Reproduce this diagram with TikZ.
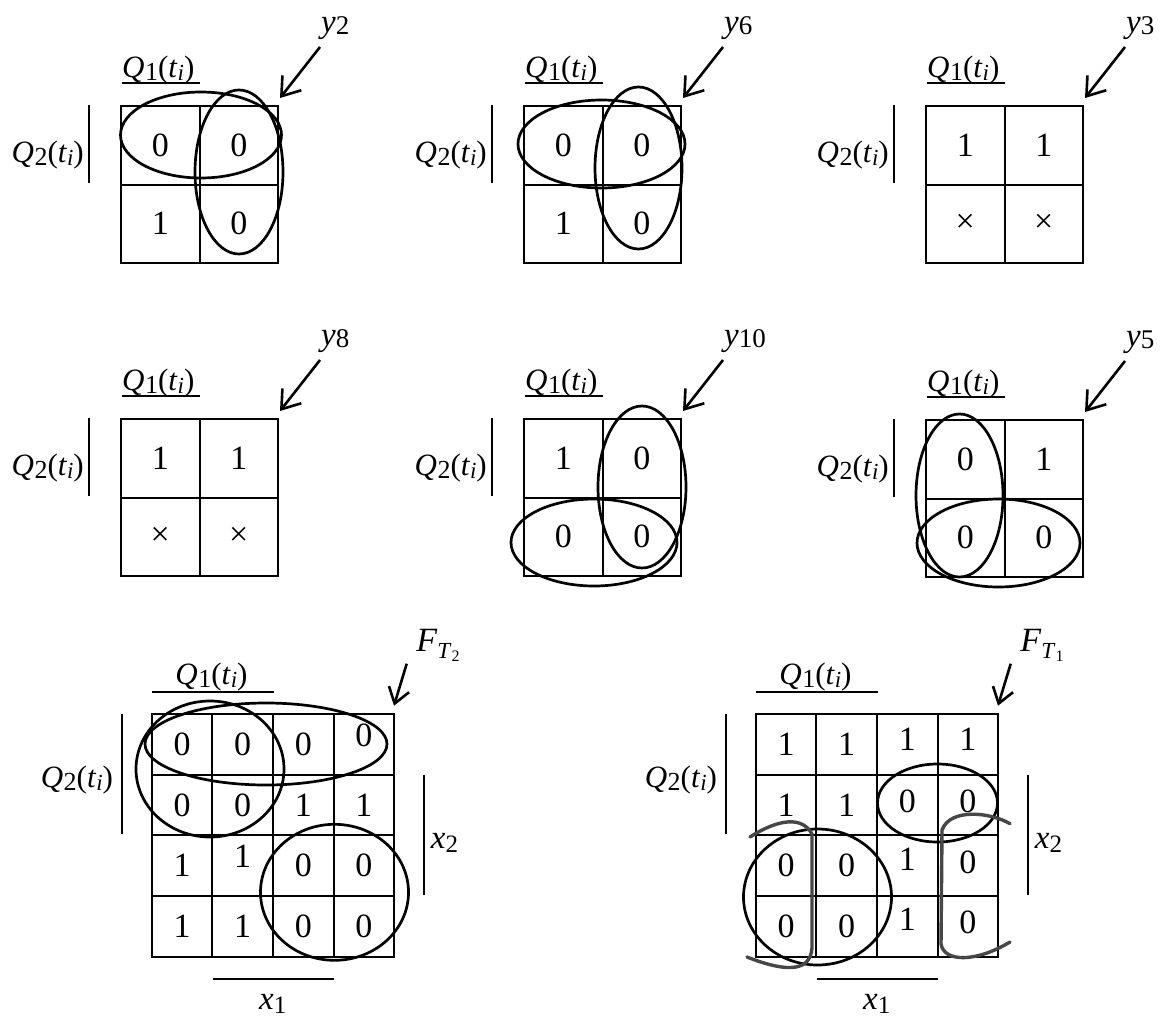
\documentclass[tikz,border=0pt]{standalone}
\usepackage{fontspec}
\setmainfont{Liberation Serif}
\usetikzlibrary{arrows.meta}
\newcommand\lbQ[1]{{\fontsize{31}{31}\selectfont\textit{Q}\kern0.5pt\raisebox{-3pt}{\fontsize{26}{26}\selectfont #1}(\textit{t}\raisebox{-3pt}{\fontsize{23}{23}\selectfont\textit{i}})}}
\newcommand\lbY[1]{{\fontsize{33}{33}\selectfont\textit{y}\raisebox{-2pt}{\fontsize{27}{27}\selectfont #1}}}
\newcommand\lbF[1]{{\fontsize{34}{34}\selectfont\textit{F}\raisebox{-7pt}{\fontsize{23}{23}\selectfont\textit{T}\raisebox{-3pt}{\fontsize{16}{16}\selectfont #1}}}}
\newcommand\lbX[1]{{\fontsize{33}{33}\selectfont\textit{x}\raisebox{-4pt}{\fontsize{25}{25}\selectfont #1}}}
\newcommand\crs{{\fontsize{34}{34}\selectfont ×}}
\tikzset{
  gridl/.style={line width=2pt},
  cellt/.style={inner sep=0pt,font=\fontsize{34}{34}\selectfont},
  lbl/.style={inner sep=0pt},
  barl/.style={line width=2pt},
  ptr/.style={line width=2.6pt,-{Straight Barb[length=17pt,width=24pt]}},
  ptrs/.style={line width=2.6pt,-{Straight Barb[length=15pt,width=21pt]}},
  ring/.style={line width=2.7pt},
  scrawl/.style={line width=3.4pt,draw=black!72,line cap=round}
}
% 2x2 map: name, L, T, cells a b c d, label index
\newcommand\kmapii[8]{%
\begin{scope}[shift={(#2,#3)}]
 \draw[gridl] (0,0) rectangle (157,157) (78.5,0) -- (78.5,157) (0,78.5) -- (157,78.5);
 \node[cellt] (#1a) at (39.25,39.25) {#4};
 \node[cellt] (#1b) at (117.75,39.25) {#5};
 \node[cellt] (#1c) at (39.25,117.75) {#6};
 \node[cellt] (#1d) at (117.75,117.75) {#7};
 \node[lbl,anchor=base west] (#1q1) at (1,-29) {\lbQ{1}};
 \draw[barl] (1,-23) -- (79,-23);
 \node[lbl,anchor=base east] (#1q2) at (-37,56) {\lbQ{2}};
 \draw[barl] (-32,-1) -- (-32,77);
 \coordinate (#1tail) at (199,-59);
 \coordinate (#1tip) at (159,-8);
 \draw[ptr] (#1tail) -- (#1tip);
 \node[lbl,anchor=base west] (#1y) at (200,-74) {\lbY{#8}};
\end{scope}}
% 4x4 map: name, L, T, cell list, F index
\newcommand\kmapiv[5]{%
\begin{scope}[shift={(#2,#3)}]
 \draw[gridl] (0,0) rectangle (242.6,243.3)
   (60.65,0) -- (60.65,243.3) (121.3,0) -- (121.3,243.3) (181.95,0) -- (181.95,243.3)
   (0,60.8) -- (242.6,60.8) (0,121.6) -- (242.6,121.6) (0,182.4) -- (242.6,182.4);
 \foreach \r/\c/\v/\d in {#4}
   \node[cellt] (#1-\r\c) at ({(\c-0.5)*60.65},{(\r-0.5)*60.8+\d}) {\v};
 \node[lbl,anchor=base west] (#1q1) at (23.5,-29) {\lbQ{1}};
 \draw[barl] (0,-22) -- (122.3,-22);
 \node[lbl,anchor=base east] (#1q2) at (-38.5,73.3) {\lbQ{2}};
 \draw[barl] (-29.5,0) -- (-29.5,120.6);
 \draw[barl] (272.5,61) -- (272.5,181.6);
 \node[lbl,anchor=west] (#1x2) at (279,129) {\lbX{2}};
 \draw[barl] (61,265) -- (182.3,265);
 \node[lbl] (#1x1) at (121,290) {\lbX{1}};
 \coordinate (#1tail) at (255,-50);
 \coordinate (#1tip) at (242.3,-8);
 \draw[ptrs] (#1tail) -- (#1tip);
 \node[lbl,anchor=base west] (#1f) at (264.5,-62) {\lbF{#5}};
\end{scope}}
\begin{document}
\begin{tikzpicture}[x=1pt,y=-1pt]
\fill[white] (0,0) rectangle (1164,1017);
\useasboundingbox (0,0) rectangle (1164,1017);
% row 1
\kmapii{m1}{121}{106}{0}{0}{1}{0}{2}
\draw[ring] (201,135) ellipse [x radius=80.5pt,y radius=43pt];
\draw[ring] (239,172) ellipse [x radius=44pt,y radius=82pt];
\kmapii{m2}{524}{106}{0}{0}{1}{0}{6}
\draw[ring] (601.5,144) ellipse [x radius=83.5pt,y radius=44pt];
\draw[ring] (638.5,168) ellipse [x radius=43.5pt,y radius=81pt];
\kmapii{m3}{926}{106}{1}{1}{\crs}{\crs}{3}
% row 2
\kmapii{m4}{121}{419}{1}{1}{\crs}{\crs}{8}
\kmapii{m5}{524}{419}{1}{0}{0}{0}{10}
\draw[ring] (642,487) ellipse [x radius=44pt,y radius=81pt];
\draw[ring] (594,542.5) ellipse [x radius=83pt,y radius=43.5pt];
\kmapii{m6}{926}{420}{0}{1}{0}{0}{5}
\draw[ring] (959.5,495.5) ellipse [x radius=43.5pt,y radius=81.5pt];
\draw[ring] (998.5,543) ellipse [x radius=81.5pt,y radius=44pt];
% row 3
\kmapiv{f2}{151.7}{713.7}{1/1/0/0,1/2/0/0,1/3/0/0,1/4/0/-9,2/1/0/0,2/2/0/0,2/3/1/0,2/4/1/0,3/1/1/0,3/2/1/-9,3/3/0/0,3/4/0/0,4/1/1/0,4/2/1/0,4/3/0/0,4/4/0/0}{2}
\draw[ring] (210,769) ellipse [x radius=74pt,y radius=68pt];
\draw[ring] (266,744) ellipse [x radius=121pt,y radius=41pt];
\draw[ring] (334.5,892.3) ellipse [x radius=74pt,y radius=68pt];
\kmapiv{f1}{755.7}{713.7}{1/1/1/0,1/2/1/0,1/3/1/-5,1/4/1/-5,2/1/1/0,2/2/1/0,2/3/0/-4,2/4/0/-4,3/1/0/0,3/2/0/0,3/3/1/-6,3/4/0/-3,4/1/0/0,4/2/0/0,4/3/1/-7,4/4/0/-4}{1}
\draw[ring] (937.5,803) ellipse [x radius=60pt,y radius=39pt];
\draw[ring] (817.5,897) ellipse [x radius=74pt,y radius=68pt];
\draw[scrawl] (750,837) .. controls (770,824) and (800,812) .. (812,834)
  -- (812,948) .. controls (810,975) and (780,970) .. (747,957);
\draw[scrawl] (1010,823.7) .. controls (990,812) and (950,808) .. (942,830)
  -- (941,944) .. controls (944,962) and (975,963) .. (1010,942);
\end{tikzpicture}
\end{document}
